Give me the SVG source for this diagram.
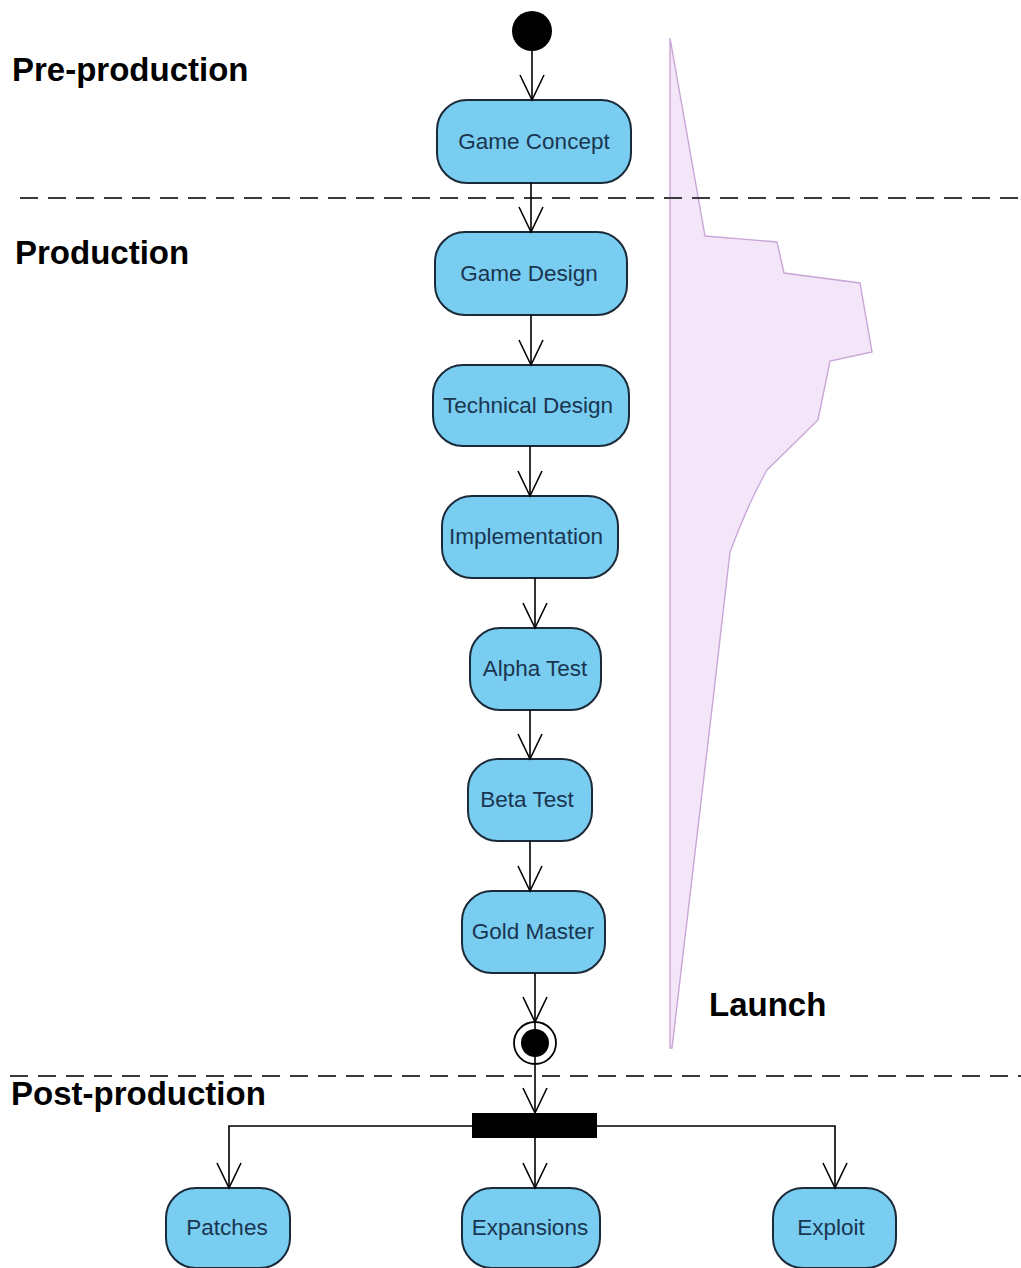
<svg xmlns="http://www.w3.org/2000/svg" width="1021" height="1268" viewBox="0 0 1021 1268">
  <defs>
    <style>
      .phase { font-family: "Liberation Sans", Arial, sans-serif; font-weight: bold; font-size: 33px; fill: #000; }
      .act rect { fill: #78cdf0; stroke: #1b2a38; stroke-width: 2; }
      .act text { font-family: "Liberation Sans", Arial, sans-serif; font-size: 22.5px; fill: #1a3550; text-anchor: middle; }
      .sep { stroke: #3a3a3a; stroke-width: 1.8; stroke-dasharray: 18 10; fill: none; }
      .flow { stroke: #000; stroke-width: 1.6; fill: none; marker-end: url(#openArrow); }
    </style>
    <marker id="openArrow" markerUnits="userSpaceOnUse" orient="auto" refX="0" refY="0" markerWidth="40" markerHeight="40" viewBox="-30 -20 40 40" overflow="visible">
      <path d="M-25,-12 L0,0 L-25,12" fill="none" stroke="#000" stroke-width="1.6"/>
    </marker>
  </defs>

  <rect width="1021" height="1268" fill="#fff"/>

  <!-- effort curve -->
  <g id="effort-curve">
    <path d="M670,38 L705,236 L777,242 L784,273 L860,283 L872,352 L830,361 L818,420 L767,470 C750,500 740,525 730,552 L713,700 L672,1048 L670,1048 Z" fill="#f3e6f8" stroke="#c9a6d8" stroke-width="1.4"/>
  </g>

  <!-- phase separators -->
  <g id="separators">
    <line class="sep" x1="20" y1="198" x2="1021" y2="198"/>
    <line class="sep" x1="10" y1="1076" x2="1021" y2="1076"/>
  </g>

  <!-- phase labels -->
  <g id="labels">
    <text class="phase" x="12" y="81">Pre-production</text>
    <text class="phase" x="15" y="264">Production</text>
    <text class="phase" x="11" y="1105">Post-production</text>
    <text class="phase" x="709" y="1016">Launch</text>
  </g>

  <!-- nodes -->
  <g id="start">
    <circle cx="532" cy="31" r="20" fill="#000"/>
  </g>
  <g id="game-concept" class="act">
    <rect x="437" y="100" width="194" height="83" rx="30"/>
    <text x="534" y="149">Game Concept</text>
  </g>
  <g id="game-design" class="act">
    <rect x="435" y="232" width="192" height="83" rx="30"/>
    <text x="529" y="281">Game Design</text>
  </g>
  <g id="technical-design" class="act">
    <rect x="433" y="365" width="196" height="81" rx="30"/>
    <text x="528" y="413">Technical Design</text>
  </g>
  <g id="implementation" class="act">
    <rect x="442" y="496" width="176" height="82" rx="30"/>
    <text x="526" y="544">Implementation</text>
  </g>
  <g id="alpha-test" class="act">
    <rect x="470" y="628" width="131" height="82" rx="30"/>
    <text x="535" y="676">Alpha Test</text>
  </g>
  <g id="beta-test" class="act">
    <rect x="468" y="759" width="124" height="82" rx="30"/>
    <text x="527" y="807">Beta Test</text>
  </g>
  <g id="gold-master" class="act">
    <rect x="462" y="891" width="143" height="82" rx="30"/>
    <text x="533" y="939">Gold Master</text>
  </g>
  <g id="final">
    <circle cx="535" cy="1043" r="21" fill="#fff" stroke="#000" stroke-width="1.8"/>
    <circle cx="535" cy="1043" r="14" fill="#000"/>
  </g>
  <g id="fork">
    <rect x="472" y="1113" width="125" height="25" fill="#000"/>
  </g>
  <g id="patches" class="act">
    <rect x="166" y="1188" width="124" height="80" rx="30"/>
    <text x="227" y="1235">Patches</text>
  </g>
  <g id="expansions" class="act">
    <rect x="462" y="1188" width="138" height="80" rx="30"/>
    <text x="530" y="1235">Expansions</text>
  </g>
  <g id="exploit" class="act">
    <rect x="773" y="1188" width="123" height="80" rx="30"/>
    <text x="831" y="1235">Exploit</text>
  </g>

  <!-- connectors -->
  <g id="connectors">
    <line class="flow" x1="532" y1="51" x2="532" y2="100"/>
    <line class="flow" x1="531" y1="183" x2="531" y2="232"/>
    <line class="flow" x1="531" y1="315" x2="531" y2="365"/>
    <line class="flow" x1="530" y1="446" x2="530" y2="496"/>
    <line class="flow" x1="535" y1="578" x2="535" y2="628"/>
    <line class="flow" x1="530" y1="710" x2="530" y2="759"/>
    <line class="flow" x1="530" y1="841" x2="530" y2="891"/>
    <line class="flow" x1="535" y1="973" x2="535" y2="1022"/>
    <line class="flow" x1="535" y1="1022" x2="535" y2="1113"/>
    <line class="flow" x1="535" y1="1138" x2="535" y2="1188"/>
    <path class="flow" d="M472,1126 L229,1126 L229,1188"/>
    <path class="flow" d="M597,1126 L835,1126 L835,1188"/>
  </g>
</svg>
